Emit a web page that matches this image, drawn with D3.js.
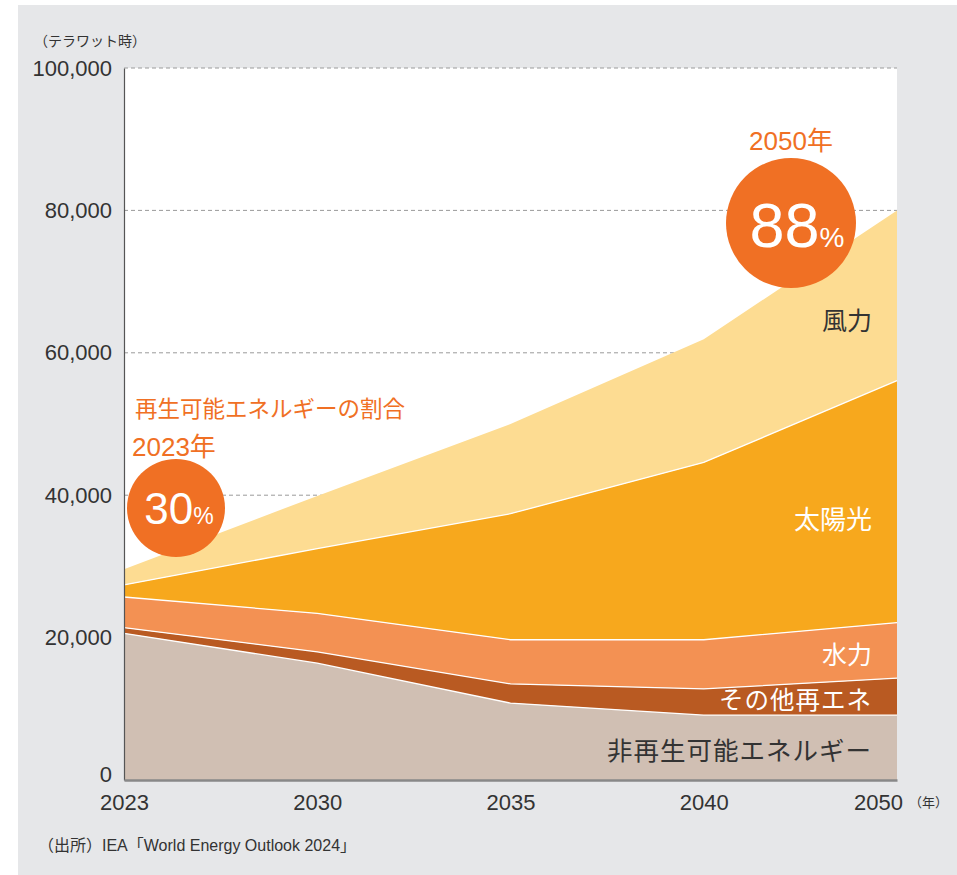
<!DOCTYPE html>
<html>
<head>
<meta charset="utf-8">
<script src="https://cdn.jsdelivr.net/npm/d3@7"></script>
<style>
  body { margin: 0; background: #fff; }
  text { font-family: "Liberation Sans", "Noto Sans CJK JP", sans-serif; }
</style>
</head>
<body>
<div class="canvas"></div>
<script>
// data (テラワット時)
var years = ["2023", "2030", "2035", "2040", "2050"];
var nonRenew = [20600, 16400, 10800, 9100, 9100];
var otherRenew = [800, 1600, 2700, 3700, 5200];
var hydro = [4300, 5400, 6200, 6900, 7800];
var solar = [1700, 9100, 17700, 24900, 34000];
var wind = [2200, 7400, 12600, 17300, 23900];
var yTicks = [0, 20000, 40000, 60000, 80000, 100000];
var seriesNames = ["非再生可能エネルギー", "その他再エネ", "水力", "太陽光", "風力"];
var seriesColors = ["#d0bfb3", "#b95a22", "#f39153", "#f7a81d", "#fddc92"];

var svg = d3.select(".canvas").append("svg").attr("width", 957).attr("height", 875);

plot = { 'left': 124, 'right': 897, 'top': 68, 'bottom': 780 };

// gray panel
svg.append("rect")
    .attr("x", 18).attr("y", 5)
    .attr("width", 939).attr("height", 870)
    .attr("fill", "#e6e7e9");

svg.append("rect")
    .attr("x", plot.left).attr("y", plot.top)
    .attr("width", plot.right - plot.left).attr("height", plot.bottom - plot.top)
    .attr("fill", "#fff");

var x = d3.scalePoint().domain(years).range([plot.left, plot.right]);
var y = d3.scaleLinear().domain([0, 100000]).range([plot.bottom, plot.top]);

// grid lines
svg.append("g")
    .selectAll("line")
    .data(yTicks.filter(d => d > 0))
    .join("line")
    .attr("x1", plot.left).attr("x2", plot.right)
    .attr("y1", d => y(d)).attr("y2", d => y(d))
    .attr("stroke", "#9a9a9a")
    .attr("stroke-width", 1)
    .attr("stroke-dasharray", "4,3");

// stacked areas
var rows = years.map((yr, i) => ({
    year: yr,
    s0: nonRenew[i], s1: otherRenew[i], s2: hydro[i], s3: solar[i], s4: wind[i]
}));
var stack = d3.stack().keys(["s0", "s1", "s2", "s3", "s4"]);
var layers = stack(rows);

var area = d3.area()
    .x(d => x(d.data.year))
    .y0(d => y(d[0]))
    .y1(d => y(d[1]));

svg.append("g")
    .selectAll("path")
    .data(layers)
    .join("path")
    .attr("d", area)
    .attr("fill", (d, i) => seriesColors[i]);

// white lines between the layers
var topLine = d3.line().x(d => x(d.data.year)).y(d => y(d[1]));
svg.append("g")
    .selectAll("path")
    .data(layers.slice(0, 4))
    .join("path")
    .attr("d", topLine)
    .attr("fill", "none")
    .attr("stroke", "#fff")
    .attr("stroke-width", 1.3);

// axes
var yAxis = svg.append("g")
    .attr("transform", "translate(" + plot.left + ",0)")
    .call(d3.axisLeft(y).tickValues(yTicks).tickSize(0).tickPadding(12).tickFormat(d3.format(",")));
yAxis.select(".domain").attr("stroke", "#555").attr("stroke-width", 1.2);
yAxis.selectAll("text").attr("font-size", "22px").attr("fill", "#333")
    .style("font-family", "'Liberation Sans', sans-serif");
yAxis.selectAll(".tick").filter(d => d === 0).select("text").attr("y", -6);

var xAxis = svg.append("g")
    .attr("transform", "translate(0," + plot.bottom + ")")
    .call(d3.axisBottom(x).tickSize(0).tickPadding(14));
xAxis.select(".domain").attr("stroke", "#888").attr("stroke-width", 2.5);
xAxis.selectAll("text").attr("font-size", "22px").attr("fill", "#333")
    .style("font-family", "'Liberation Sans', sans-serif");
// last label pushed left to leave room for the unit
xAxis.selectAll(".tick").filter(d => d === "2050").select("text").attr("x", -19);

svg.append("text")
    .attr("x", 913).attr("y", 807)
    .text("（年）")
    .attr("font-size", "13px").attr("fill", "#333")
    .attr("dx", -4);

svg.append("text")
    .attr("x", 34).attr("y", 46)
    .text("（テラワット時）")
    .attr("font-size", "14px").attr("fill", "#333");

// series labels
var labelY = [760, 709, 664, 529, 330];
var labelFill = ["#333", "#fff", "#fff", "#fff", "#333"];
var labelSize = ["25.5px", "24.5px", "25px", "26px", "25px"];
seriesNames.forEach((name, i) => {
    svg.append("text")
        .attr("x", 872).attr("y", labelY[i])
        .attr("text-anchor", "end")
        .text(name)
        .attr("font-size", labelSize[i])
        .attr("fill", labelFill[i])
        .style("letter-spacing", i === 0 || i === 1 ? "1px" : "0px");
});

// share circles
var orange = "#f07024";

svg.append("text")
    .attr("x", 135).attr("y", 417)
    .text("再生可能エネルギーの割合")
    .attr("font-size", "22.5px").attr("fill", orange);

svg.append("text")
    .attr("x", 132).attr("y", 456)
    .text("2023年")
    .attr("font-size", "26px").attr("fill", orange);

svg.append("circle")
    .attr("cx", 176).attr("cy", 508).attr("r", 49)
    .attr("fill", orange);

var t30 = svg.append("text")
    .attr("x", 179).attr("y", 524)
    .attr("text-anchor", "middle")
    .attr("fill", "#fff");
t30.append("tspan").text("30").attr("font-size", "44px");
t30.append("tspan").text("%").attr("font-size", "23px");

svg.append("text")
    .attr("x", 791).attr("y", 150)
    .attr("text-anchor", "middle")
    .text("2050年")
    .attr("font-size", "26px").attr("fill", orange);

svg.append("circle")
    .attr("cx", 791).attr("cy", 223).attr("r", 65)
    .attr("fill", orange);

var t88 = svg.append("text")
    .attr("x", 797).attr("y", 247)
    .attr("text-anchor", "middle")
    .attr("fill", "#fff");
t88.append("tspan").text("88").attr("font-size", "63px");
t88.append("tspan").text("%").attr("font-size", "28px");

// source
svg.append("text")
    .attr("x", 38).attr("y", 851)
    .text("（出所）IEA「World Energy Outlook 2024」")
    .attr("font-size", "16px").attr("fill", "#333");
</script>
</body>
</html>
